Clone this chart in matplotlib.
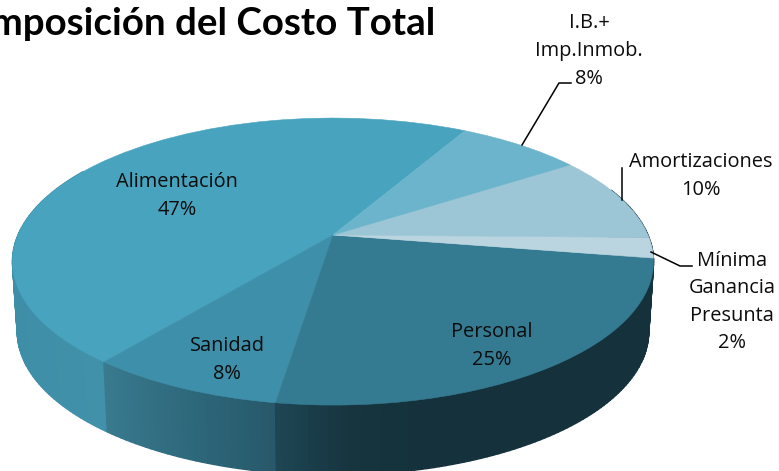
import numpy as np
import matplotlib
matplotlib.use("Agg")
import matplotlib.pyplot as plt
from matplotlib.path import Path
from matplotlib.transforms import Transform
from matplotlib.collections import PolyCollection
from matplotlib.colors import to_rgb

title = "Composición del Costo Total"
categories = ["Alimentación", "Sanidad", "Personal", "Mínima\nGanancia\nPresunta",
              "Amortizaciones", "I.B.+\nImp.Inmob."]
values = [47.4, 8.3, 24.8, 2.3, 9.7, 7.5]
colors = ["#47A3BE", "#3E8FAA", "#347B92", "#BAD5E0", "#9CC5D6", "#6BB4CB"]
side_stops = [
    ["#3F8EA7", "#4596AE", "#3C89A2"],
    ["#397A8F", "#2E687B", "#27586A"],
    ["#1F4655", "#16353F", "#15323C"],
    ["#15323C", "#15323C", "#15323C"],
    ["#15323C", "#15323C", "#15323C"],
    ["#15323C", "#15323C", "#15323C"],
]
START = 60.9
CX, CY, A, B, K = 333.0, 235.0, 315.0, 138.6, 0.185
DEPTH, SHRINK = 70.0, 0.985


def project(u, v, lower=False):
    w = 1 + K * v
    x = A * u / w
    y = B * v / w
    if lower:
        return CX + x * SHRINK, CY - y + DEPTH
    return CX + x, CY - y


class Perspective(Transform):
    input_dims = output_dims = 2
    has_inverse = False
    is_separable = False

    def transform_non_affine(self, xy):
        xy = np.asarray(xy, dtype=float)
        x, y = project(xy[:, 0], xy[:, 1])
        return np.column_stack([x, y])

    def transform_path_non_affine(self, path):
        return Path(self.transform_non_affine(path.vertices), path.codes)


plt.rcParams["font.family"] = ["Open Sans", "DejaVu Sans"]
fig = plt.figure(figsize=(7.79, 4.71), dpi=100)
ax = fig.add_axes([0, 0, 1, 1])

wedges, _ = ax.pie(values, colors=colors, startangle=START, counterclock=True)
ax.set_aspect("auto")
ax.set_xlim(0, 779)
ax.set_ylim(471, 0)
ax.axis("off")

persp = Perspective() + ax.transData
for w in wedges:
    w.set_transform(persp)
    w.set_zorder(3)
    w.set_edgecolor(w.get_facecolor())
    w.set_linewidth(0.4)

# extruded side wall, with a horizontal shading per slice
edges = START + np.cumsum([0] + values) * 3.6
polys, cols = [], []
for i in range(len(values)):
    a0, a1 = edges[i], edges[i + 1]
    lo, hi = max(a0, 150.0), min(a1, 380.0)
    if lo >= hi:
        continue
    xs_span = project(np.cos(np.radians([a0, a1])), np.sin(np.radians([a0, a1])))[0]
    ang = np.append(np.arange(lo, hi, 1.0), hi)
    rad = np.radians(ang)
    u, v = np.cos(rad), np.sin(rad)
    xt, yt = project(u, v)
    xb, yb = project(u, v, lower=True)
    left, right = max(min(xt.min(), xs_span.min()), 0), max(xt.max(), xs_span.max())
    stops = np.array([to_rgb(c) for c in side_stops[i]])
    for j in range(len(ang) - 1):
        f = ((xt[j] + xt[j + 1]) / 2 - left) / max(right - left, 1)
        if i == 2:
            f = min(f * 2.6, 1.0)
        col = [np.interp(f, [0, .5, 1], stops[:, c]) for c in range(3)]
        polys.append([(xt[j], yt[j]), (xt[j + 1], yt[j + 1]),
                      (xb[j + 1], yb[j + 1]), (xb[j], yb[j])])
        cols.append(col)
ax.add_collection(PolyCollection(polys, facecolors=cols, edgecolors=cols,
                                 linewidths=1.0, zorder=2))

# leader lines
ax.plot([522, 559, 571], [145, 83, 83], color="black", lw=1.1, zorder=4)
ax.plot([622, 622], [200, 168], color="black", lw=1.1, zorder=4)
ax.plot([651, 680, 692], [252, 266, 266], color="black", lw=1.1, zorder=4)

# data labels
label_pos = [(177, 196), (227, 360), (492, 346), (732, 302), (701, 176), (589, 51)]
for cat, val, (lx, ly) in zip(categories, values, label_pos):
    ax.text(lx, ly, f"{cat}\n{val:.0f}%", ha="center", va="center", fontsize=14.4,
            color="#0c0c0c", linespacing=1.5, zorder=5)

ax.text(435, 35, title, ha="right", va="baseline", fontsize=27.7,
        fontweight="bold", family=["Lato", "DejaVu Sans"], color="black", zorder=5)

fig.savefig("out.png", dpi=100, facecolor="white")
